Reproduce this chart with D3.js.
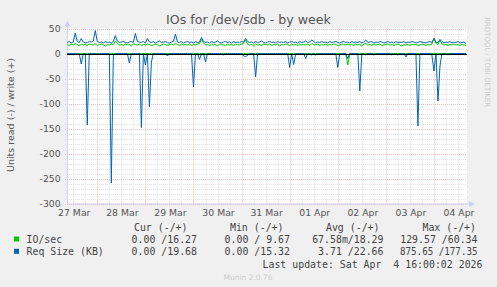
<!DOCTYPE html>
<html><head><meta charset="utf-8">
<script src="https://cdn.jsdelivr.net/npm/d3@7"></script>
<style>body{margin:0;background:#F0F0F0}svg{display:block}</style>
</head><body><svg id="c" width="497" height="287"></svg>
<script>
// hourly samples starting Mar 27 09:00 (UTC)
const ioWrite = [
18,16,19,17,20,18,15,19,17,18, 16,19,18,17,20,16,18,19,17,15,
18,17,19,18,25,20,17,18,16,19, 17,18,15,19,18,17,19,16,18,17,
19,18,16,17,19,18,15,17,19,18, 16,18,19,17,20,18,16,19,17,18,
17,19,16,18,17,19,20,28,21,17, 18,16,19,17,18,15,19,18,17,16,
19,17,18,16,19,18,17,19,20,27, 19,17,18,15,19,17,18,16,19,18,
17,19,16,18,17,19,15,18,17,19, 18,16,19,17,18,16,19,17,18,17,
19,16,20,18,17,19,16,18,17,19, 16,18,17,19,18,16,17,19,18,17,
19,17,18,16,19,17,18,15,19,20, 17,18,16,19,17,18,19,16,17,18,
19,17,18,16,18,19,17,15,18,17, 18,16,19,17,18,16,17,19,18,16,
18,17,19,31,20,18,27,19,17,18, 16,18,17,19,17,18,16,18,17,16];
const ioRead = [
0,0,0,0,0,0,0,0,0,0, 0,0,0,0,0,0,0,0,0,0,
0,0,0,0,0,0,0,0,0,0, 0,0,0,0,0,0,0,0,0,0,
0,0,0,0,0,0,0,0,0,0, 0,0,0,0,0,0,0,0,0,0,
0,0,0,0,0,0,0,0,0,0, 0,0,0,0,0,0,0,0,0,0,
0,0,0,0,0,0,0,0,0,0, 0,0,0,0,0,0,0,0,0,0,
0,0,0,0,0,0,0,0,0,0, 0,0,0,0,0,0,0,0,0,0,
0,0,0,0,0,0,0,0,0,0, 0,0,0,0,0,0,0,0,0,0,
-23,0,0,0,0,0,0,0,0,0, 0,0,0,0,0,0,0,0,0,0,
0,0,0,0,0,0,0,0,0,0, 0,0,0,0,0,0,0,0,0,0,
0,0,0,0,0,0,0,0,0,0, 0,0,0,0,0,0,0,0,0,0];
const reqWrite = [
22,24,21,23,41,24,22,30,23,21, 22,24,23,25,46,24,22,23,21,24,
22,23,21,24,36,25,22,23,24,22, 21,23,24,22,40,24,23,22,24,21,
30,23,22,24,21,23,25,22,23,24, 22,21,23,24,39,23,22,24,21,23,
24,22,23,21,24,22,23,32,24,22, 23,21,24,22,23,25,22,21,23,24,
22,23,21,24,22,23,22,24,23,30, 24,22,23,21,24,22,23,25,22,21,
23,24,22,23,21,24,22,23,22,24, 21,23,24,22,23,21,24,22,23,25,
22,23,27,24,21,23,22,24,22,23, 21,24,22,23,24,22,21,23,24,22,
23,21,24,22,23,22,24,21,23,27, 22,23,24,21,23,22,24,23,21,22,
24,22,23,21,24,22,23,22,24,21, 23,22,24,23,21,22,24,23,22,21,
23,24,22,30,23,22,28,24,21,23, 22,24,21,23,22,24,21,22,23,20];
const reqRead = [
0,0,0,0,0,0,0,-21,0,0, -143,0,0,0,0,-2,0,0,0,0,
0,0,-259,-5,0,0,0,0,0,0, 0,-19,0,0,0,0,0,-148,0,-23,
0,-107,-17,0,0,0,0,0,0,0, -5,0,0,0,0,0,0,0,0,0,
0,0,0,-67,0,0,-12,0,0,-17, 0,0,0,0,0,0,0,0,-3,0,
0,0,0,0,0,0,0,0,-5,-6, -4,0,0,0,-47,0,0,0,0,0,
0,0,0,0,0,0,0,0,0,0, 0,-28,0,-22,0,0,0,0,0,-10,
0,0,-3,0,-3,0,0,0,0,0, 0,0,0,0,0,-28,0,0,0,0,
-10,0,0,0,0,0,-75,0,0,-3, 0,0,0,-3,0,0,0,0,0,0,
0,0,-3,0,0,-3,0,0,0,-7, 0,0,0,0,0,-145,0,0,0,0,
0,0,-4,-35,0,-95,-25,0,0,0, -3,0,0,0,0,0,0,0,0,0];

const dayLabels = ["27 Mar","28 Mar","29 Mar","30 Mar","31 Mar","01 Apr","02 Apr","03 Apr","04 Apr"];
const yTicks = [50,0,-50,-100,-150,-200,-250,-300];
const legendSeries = ["IO/sec","Req Size (KB)"];
const legendColors = ["#00CC00","#0066B3"];
const legendHeaders = ["Cur (-/+)","Min (-/+)","Avg (-/+)","Max (-/+)"];
const legendRows = [
  ["0.00 /16.27","0.00 / 9.67","67.58m/18.29","129.57 /60.34"],
  ["0.00 /19.68","0.00 /15.32","3.71 /22.66","875.65 /177.35"]];

const H = 3600e3;
const t0 = Date.UTC(2026,2,27,9,0);
const start = Date.UTC(2026,2,27,8,53);
const end = start + 199.6*H;

const svg = d3.select("#c");
const L=67,R=467,T=28.5,B=203.5;
const x = d3.scaleTime().domain([new Date(start), new Date(end)]).range([L,R]);
const y = d3.scaleLinear().domain([-300,50]).range([B,T]);

svg.append("rect").attr("width",497).attr("height",287).attr("fill","#F0F0F0");
svg.append("rect").attr("x",L).attr("y",T).attr("width",R-L).attr("height",B-T).attr("fill","#FFFFFF");

const g = svg.append("g");
const minorC = "#E2E2E2", majorC = "#F2BDBD";
for (let v=-300; v<=50; v+=10) {
  if (v%50===0) continue;
  g.append("line").attr("x1",L-2).attr("x2",R).attr("y1",Math.round(y(v))+0.5).attr("y2",Math.round(y(v))+0.5)
   .attr("stroke",minorC).attr("stroke-dasharray","1,1");
}
const sixH = d3.utcHour.every(6).range(new Date(start), new Date(end));
sixH.forEach(d=>{ if (d.getUTCHours()===0) return;
  const xx=Math.round(x(d))+0.5;
  g.append("line").attr("x1",xx).attr("x2",xx).attr("y1",T).attr("y2",B+2).attr("stroke",minorC).attr("stroke-dasharray","1,1");});
yTicks.forEach(v=>{ const yy=Math.round(y(v))+0.5;
  g.append("line").attr("x1",L-2).attr("x2",R).attr("y1",yy).attr("y2",yy).attr("stroke",majorC).attr("stroke-dasharray","1,1");});
const days = d3.utcDay.range(new Date(start), new Date(end));
days.forEach(d=>{ const xx=Math.round(x(d))+0.5;
  g.append("line").attr("x1",xx).attr("x2",xx).attr("y1",T).attr("y2",B+2).attr("stroke",majorC).attr("stroke-dasharray","1,1");});

// axes
const axC = "#CDD0F5";
svg.append("line").attr("x1",L+0.5).attr("x2",L+0.5).attr("y1",T-3).attr("y2",B).attr("stroke",axC);
svg.append("line").attr("x1",L).attr("x2",R+2).attr("y1",B+0.5).attr("y2",B+0.5).attr("stroke",axC);
svg.append("path").attr("d",`M${L-2.5},${T-2} L${L+3.5},${T-2} L${L+0.5},${T-8} Z`).attr("fill",axC);
svg.append("path").attr("d",`M${R+2},${B-2.5} L${R+2},${B+3.5} L${R+8},${B+0.5} Z`).attr("fill",axC);

const line = arr => d3.line().x((d,i)=>x(new Date(t0+i*H))).y(d=>y(d))(arr);
const series = [[ioWrite,ioRead,legendColors[0]],[reqWrite,reqRead,legendColors[1]]];
series.forEach(([w,r,c])=>{
  svg.append("path").attr("d",line(r)).attr("fill","none").attr("stroke",c).attr("stroke-width",1);
  svg.append("path").attr("d",line(w)).attr("fill","none").attr("stroke",c).attr("stroke-width",1);
});
svg.append("line").attr("x1",L).attr("x2",R).attr("y1",Math.round(y(0))+0.5).attr("y2",Math.round(y(0))+0.5).attr("stroke","#000").attr("stroke-width",1);

const tf = "DejaVu Sans, sans-serif";
yTicks.forEach(v=>svg.append("text").attr("x",60.7).attr("y",y(v)+3.3).attr("text-anchor","end")
  .attr("font-family",tf).attr("font-size","9.3px").attr("fill","#555").text(v));
days.concat([d3.utcDay.floor(new Date(start))]).sort((a,b)=>a-b).forEach((d,i)=>{
  svg.append("text").attr("x",x(new Date(+d+12.5*H))).attr("y",216).attr("text-anchor","middle")
   .attr("font-family",tf).attr("font-size","9.3px").attr("fill","#555").text(dayLabels[i]);
});

svg.append("text").attr("x",248.5).attr("y",23.5).attr("text-anchor","middle").attr("font-family",tf)
  .attr("font-size","12.6px").attr("fill","#555").text("IOs for /dev/sdb - by week");
svg.append("text").attr("transform","translate(13.5,115) rotate(-90)").attr("text-anchor","middle")
  .attr("font-family",tf).attr("font-size","9.5px").attr("fill","#555").text("Units read (-) / write (+)");
svg.append("text").attr("transform","translate(485,17) rotate(90)").attr("text-anchor","start")
  .attr("font-family",tf).attr("font-size","7px").attr("fill","#CCCCCC").text("RRDTOOL / TOBI OETIKER");

const mf = "DejaVu Sans Mono, monospace", fs="9.9px", cw=5.96;
const hdrEnd=[187.5,283.5,379.5,476];
legendHeaders.forEach((h,i)=>svg.append("text").attr("x",hdrEnd[i]).attr("y",231).attr("text-anchor","end")
  .attr("font-family",mf).attr("font-size",fs).attr("fill","#444").text(h));
const colEnd=[197,290,383.5,477.5];
legendSeries.forEach((s,r)=>{
  const yy = 243+r*12.3;
  svg.append("rect").attr("x",14).attr("y",yy-6.5).attr("width",5).attr("height",5).attr("fill",legendColors[r]);
  svg.append("text").attr("x",26.5).attr("y",yy).attr("font-family",mf).attr("font-size",fs).attr("fill","#444").text(s);
  legendRows[r].forEach((v,c)=>{
    const t = svg.append("text").attr("x",colEnd[c]).attr("y",yy).attr("text-anchor","end").attr("font-family",mf)
        .attr("font-size",fs).attr("fill","#444").text(v);
    if (r===1 && c===3) {
      // the reference squeezes this value into one character less than its length
      t.attr("text-anchor","start").attr("x",colEnd[c]-(v.length-1)*cw)
       .attr("textLength",(v.length-1)*cw).attr("lengthAdjust","spacingAndGlyphs");
    }
  });
});
svg.append("text").attr("x",482.5).attr("y",267.5).attr("text-anchor","end").attr("font-family",mf).attr("font-size",fs)
  .attr("fill","#444").attr("xml:space","preserve").style("white-space","pre").text("Last update: Sat Apr  4 16:00:02 2026");
svg.append("text").attr("x",248).attr("y",279.5).attr("text-anchor","middle").attr("font-family",tf).attr("font-size","7.5px")
  .attr("fill","#CCCCCC").text("Munin 2.0.76");
</script></body></html>
